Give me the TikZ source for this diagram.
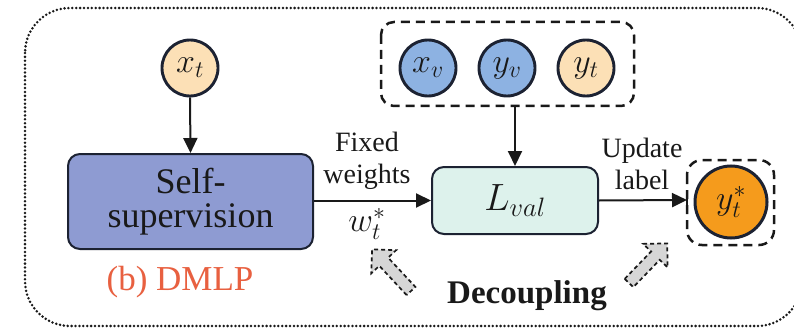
\RequirePackage{fix-cm}
\documentclass[tikz,border=0pt]{standalone}
\usepackage{fontspec}
\setmainfont{Liberation Serif}
\usetikzlibrary{arrows.meta,positioning}
\definecolor{peach}{RGB}{252,224,182}
\definecolor{skyb}{RGB}{141,178,226}
\definecolor{selfb}{RGB}{142,155,210}
\definecolor{mint}{RGB}{221,242,236}
\definecolor{orng}{RGB}{245,155,28}
\definecolor{edge}{RGB}{28,34,50}
\definecolor{dmlp}{RGB}{232,96,64}
\definecolor{txt}{RGB}{25,25,25}
\tikzset{
  var/.style={circle,draw=edge,line width=2.9pt,minimum size=56pt,inner sep=0pt,font=\fontsize{34}{38}\selectfont,text=txt},
  procbox/.style={draw=edge,line width=2pt,rounded corners=12pt,inner sep=0pt},
  arr/.style={-{Triangle[length=15pt,width=14pt]},line width=2pt,draw=txt},
  grp/.style={dashed,dash pattern=on 9pt off 6pt,line width=2.5pt,rounded corners=13pt,draw=txt},
  lbl/.style={font=\fontsize{28}{32}\selectfont,text=txt,align=center,inner sep=0pt},
  hollow/.style={fill=black!16,draw=txt,line width=1.7pt,dash pattern=on 4pt off 3pt,line join=miter}
}
\newcommand{\hollowarrow}[3]{%
  \begin{scope}[shift={(#1)},rotate=#2]
    \draw[hollow] (0,-6) -- ({#3-17},-6) -- ({#3-17},-17) -- (#3,0) -- ({#3-17},17) -- ({#3-17},6) -- (0,6) -- cycle;
  \end{scope}}
\begin{document}
\begin{tikzpicture}[x=1pt,y=-1pt]
\useasboundingbox (0,0) rectangle (794,334);
% outer dotted frame
\draw[line width=2.8pt,dash pattern=on 0pt off 3.9pt,line cap=round,rounded corners=45pt,draw=txt]
  (25,8) rectangle (802,326);
% input circle
\node[var,fill=peach] (xt) at (190,68) {$x_t$};
% self-supervision
\node[procbox,fill=selfb,minimum width=245pt,minimum height=95pt,
      font=\fontsize{36}{34}\selectfont,align=center,text=txt] (ss) at (190.5,201.5) {Self-\\supervision};
\node[font=\fontsize{35}{38}\selectfont,text=dmlp,inner sep=0pt] (dm) at (180,282) {(b) DMLP};
% validation group
\node[var,fill=skyb] (xv) at (428,68) {$x_v$};
\node[var,fill=skyb] (yv) at (507,68) {$y_v$};
\node[var,fill=peach] (yt) at (586,68) {$y_t$};
\draw[grp] (381,22) rectangle (634,106);
\coordinate (gb) at (515,106);
% L_val
\node[procbox,fill=mint,minimum width=166pt,minimum height=67pt,font=\fontsize{38}{40}\selectfont,text=txt] (lv) at (515,200.5) {$L_{val}$};
% output
\node[var,fill=orng,minimum size=72pt,line width=3pt] (ys) at (731,202) {$y_t^{*}$};
\draw[grp,rounded corners=15pt] (687,160) rectangle (774,245);
\coordinate (yb) at (687,200);
% connectors
\draw[arr] (xt.south) -- (ss.north);
\draw[arr] (gb) -- (lv.north);
\draw[arr] (ss.east |- lv.west) -- (lv.west);
\draw[arr] (lv.east) -- (yb);
\draw[line width=1.8pt,draw=txt] (687,194) -- (687,206);
% labels
\node[lbl] (fw) at (367,161) {Fixed\\weights};
\node[font=\fontsize{34}{38}\selectfont,text=txt,inner sep=0pt] (wt) at (367,224) {$w_t^{*}$};
\node[lbl] (ul) at (642,164) {Update\\label};
\node[font=\fontsize{33}{36}\selectfont\bfseries,text=txt,inner sep=0pt] (dc) at (527,296) {Decoupling};
% decoupling arrows
\hollowarrow{411,291}{133}{57}
\hollowarrow{629,283}{46}{55}
\end{tikzpicture}
\end{document}
